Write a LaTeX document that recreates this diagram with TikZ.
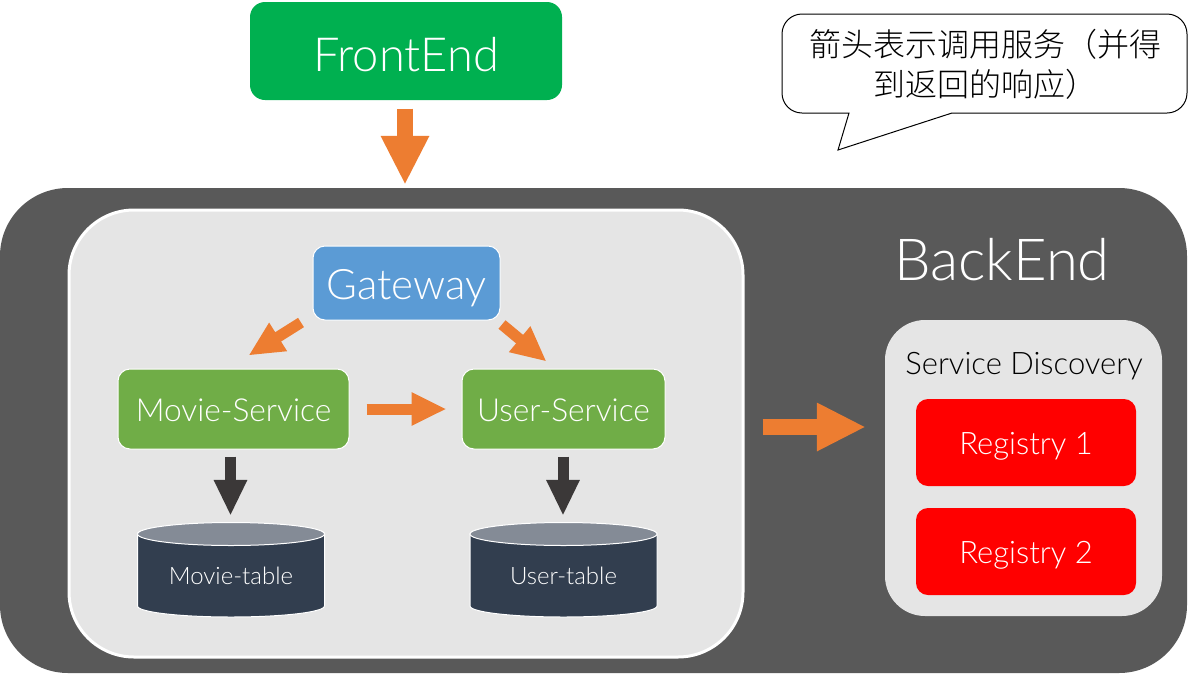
\documentclass[tikz,border=0pt]{standalone}
\usepackage{fontspec}
\setmainfont{Lato Light}
\newfontfamily\cjk{Noto Sans CJK SC Light}
\usetikzlibrary{arrows.meta}
\definecolor{frontgreen}{HTML}{00B050}
\definecolor{panelgrey}{HTML}{595959}
\definecolor{lightgrey}{HTML}{E5E5E5}
\definecolor{gateblue}{HTML}{5B9BD5}
\definecolor{svcgreen}{HTML}{70AD47}
\definecolor{arroworange}{HTML}{ED7D31}
\definecolor{arrowdark}{HTML}{3B3838}
\definecolor{cylbody}{HTML}{323E4F}
\definecolor{cyltop}{HTML}{848B96}
\tikzset{
  box/.style={draw=white,line width=1pt,text=white,inner sep=0pt,align=center,text depth=0pt},
  bigarrow/.style={draw=arroworange,line width=16pt,-{Triangle[length=49pt,width=45pt]}},
  midarrow/.style={draw=arroworange,line width=11pt,-{Triangle[length=35pt,width=31pt]}},
  darkarrow/.style={draw=arrowdark,line width=11pt,-{Triangle[length=36pt,width=31pt]}},
  cyltext/.style={text=white,inner sep=0pt,minimum width=187pt,minimum height=94pt,text height=28pt,text depth=0pt,font=\fontsize{24}{28}\selectfont},
}
\newcommand{\drumshape}[1]{%
  \fill[cylbody,draw=white,line width=1pt] (#1-93.5,534) -- (#1-93.5,606) arc[start angle=180,end angle=0,x radius=93.5,y radius=11] -- (#1+93.5,534) arc[start angle=0,end angle=-180,x radius=93.5,y radius=11] -- cycle;
  \fill[cyltop,draw=white,line width=1pt] (#1,534) ellipse[x radius=93.5,y radius=11.5];
}
\begin{document}
\begin{tikzpicture}[x=1pt,y=-1pt]
\useasboundingbox (0,0) rectangle (1203,673);
\fill[white] (0,0) rectangle (1203,673);
% panels
\node[fill=panelgrey,rounded corners=68pt,minimum width=1187pt,minimum height=485pt,inner sep=0pt] (back) at (593.5,430.5) {};
\node[fill=lightgrey,draw=white,line width=3pt,rounded corners=65pt,minimum width=674pt,minimum height=447pt,inner sep=0pt] (inner) at (406,433.5) {};
\node[fill=lightgrey,rounded corners=40pt,minimum width=277pt,minimum height=296pt,inner sep=0pt] (disc) at (1023.5,468) {};
\node[text=white,font=\fontsize{58}{60}\selectfont,inner sep=0pt] (backlabel) at (1002,260) {BackEnd};
\node[text=black,font=\fontsize{31}{34}\selectfont,inner sep=0pt] (disclabel) at (1024,366) {Service Discovery};
% boxes
\node[box,fill=frontgreen,draw=none,rounded corners=15pt,minimum width=312pt,minimum height=98pt,text height=40pt,font=\fontsize{47}{50}\selectfont] (front) at (406,51) {FrontEnd};
\node[box,fill=gateblue,rounded corners=12pt,minimum width=187pt,minimum height=74pt,text height=33pt,font=\fontsize{42}{46}\selectfont] (gw) at (406.5,283) {Gateway};
\node[box,fill=svcgreen,rounded corners=12pt,minimum width=231pt,minimum height=80pt,text height=25pt,font=\fontsize{31.7}{36}\selectfont] (movie) at (233.5,409) {Movie-Service};
\node[box,fill=svcgreen,rounded corners=12pt,minimum width=203pt,minimum height=80pt,text height=25pt,font=\fontsize{31.7}{36}\selectfont] (user) at (563.5,409) {User-Service};
\node[box,fill=red,draw=none,rounded corners=12pt,minimum width=220pt,minimum height=87pt,text height=23pt,font=\fontsize{31}{34}\selectfont] (reg1) at (1026,442.5) {Registry 1};
\node[box,fill=red,draw=none,rounded corners=12pt,minimum width=220pt,minimum height=87pt,text height=23pt,font=\fontsize{31}{34}\selectfont] (reg2) at (1026,551.5) {Registry 2};
% cylinders
\drumshape{231}
\drumshape{563.5}
\node[cyltext] (mtable) at (231,570) {Movie-table};
\node[cyltext] (utable) at (563.5,570) {User-table};
% callout
\node[inner sep=0pt,align=center,font=\cjk\fontsize{32}{40}\selectfont] (note) at (985,64.5) {箭头表示调用服务（并得\\到返回的响应）};
\draw[black,line width=1pt,fill=none] (802,14) -- (1167,14) arc[start angle=270,end angle=360,radius=20] -- (1187,93) arc[start angle=0,end angle=90,radius=20] -- (952,113) -- (838,150) -- (849,113) -- (802,113) arc[start angle=90,end angle=180,radius=20] -- (782,34) arc[start angle=180,end angle=270,radius=20] -- cycle;
% connectors
\draw[bigarrow] ([xshift=-1pt,yshift=-8pt]front.south) -- ([xshift=-1pt,yshift=3pt]front.south |- back.north);
\draw[midarrow] ([shift={(-105.5pt,-2pt)}]gw.south) -- ([shift={(15pt,13pt)}]movie.north);
\draw[midarrow] ([shift={(95.5pt,-4pt)}]gw.south) -- ([shift={(-17pt,7pt)}]user.north);
\draw[midarrow] ([xshift=17pt]movie.east) -- ([xshift=-15pt]user.west);
\draw[darkarrow] ([shift={(-3pt,-7pt)}]movie.south) -- ([shift={(-0.5pt,7pt)}]mtable.north);
\draw[darkarrow] ([shift={(-0.5pt,-7pt)}]user.south) -- ([shift={(-0.5pt,7pt)}]utable.north);
\draw[bigarrow] ([shift={(18pt,6.5pt)}]inner.east) -- ([shift={(-19pt,41pt)}]disc.west);
\end{tikzpicture}
\end{document}
